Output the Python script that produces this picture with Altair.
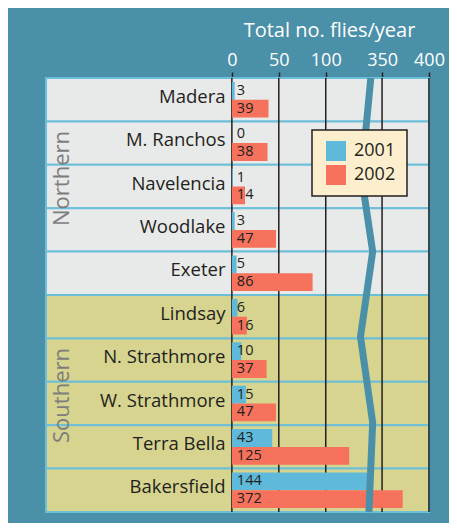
import altair as alt
import pandas as pd

# ---------------- data ----------------
sites = ["Madera", "M. Ranchos", "Navelencia", "Woodlake", "Exeter",
         "Lindsay", "N. Strathmore", "W. Strathmore", "Terra Bella", "Bakersfield"]
regions = ["Northern"] * 5 + ["Southern"] * 5
flies_2001 = [3, 0, 1, 3, 5, 6, 10, 15, 43, 144]
flies_2002 = [39, 38, 14, 47, 86, 16, 37, 47, 125, 372]
years = ["2001", "2002"]
axis_ticks = [0, 50, 100, 350, 400]

# broken axis: values >= break_resume are drawn shifted so break_resume sits at break_at
break_at = 160
break_resume = 350
break_shift = break_resume - break_at

# zig-zag break marker (position on plotting scale, row position from the top)
zigzag_x = [148, 138, 150, 137, 150, 146]
zigzag_row = [0, 2.26, 4, 5.96, 7.94, 10]

label_area = 198   # plotting units left of zero reserved for the site names
x_max = 210

# ---------------- styles ----------------
TEAL = "#4a90a8"
GRAY = "#e8e9e9"
KHAKI = "#d6d48e"
SEP = "#6cbfd9"
BLUE = "#5eb9db"
RED = "#f6725c"
INK = "#231f20"
CREAM = "#fdefce"
FONT = "Open Sans"
W, H = 383, 434

shift_expr = f"datum.value >= {break_resume} ? datum.value - {break_shift} : datum.value"

site_df = pd.DataFrame({"site": sites, "region": regions})
bars_df = pd.DataFrame({
    "site": sites * 2,
    "year": [years[0]] * len(sites) + [years[1]] * len(sites),
    "value": flies_2001 + flies_2002,
})
ticks_df = pd.DataFrame({"value": axis_ticks})
mid_df = pd.DataFrame({
    "region": ["Northern", "Southern"],
    "site": [sites[regions.index("Northern") + regions.count("Northern") // 2],
             sites[regions.index("Southern") + regions.count("Southern") // 2]],
})
zig_df = pd.DataFrame({"pos": zigzag_x, "zy": zigzag_row, "i": range(len(zigzag_x))})

tick_pos = [t - break_shift if t >= break_resume else t for t in axis_ticks]

x_scale = alt.Scale(domain=[-label_area, x_max], nice=False)
y_scale = alt.Scale(domain=sites, paddingInner=0, paddingOuter=0)
yoff_scale = alt.Scale(domain=years, paddingInner=0, paddingOuter=0.22)

x_axis = alt.Axis(orient="top", values=tick_pos,
                  labelExpr=f"datum.value >= {break_at} ? datum.value + {break_shift} : datum.value",
                  domain=False, grid=False, tickColor=INK, tickWidth=1.5,
                  tickSize=6, labelColor="white", labelFontSize=18,
                  labelPadding=3, labelFlush=False, labelFont=FONT,
                  title="Total no. flies/year", titleColor="white",
                  titleFontSize=20, titleFontWeight="normal", titleFont=FONT,
                  titleX=283, titleY=-42, titleAlign="center",
                  titleBaseline="alphabetic")

background = alt.Chart(site_df).mark_rect(stroke=SEP, strokeWidth=2).encode(
    y=alt.Y("site:N", scale=y_scale, sort=sites,
            axis=alt.Axis(orient="left", offset=-186, domain=False, ticks=False,
                          tickSize=0, labelPadding=7, labelFontSize=18.5,
                          labelColor=INK, labelOffset=-3, title=None,
                          labelFont=FONT)),
    x=alt.value(0),
    x2=alt.value(W),
    fill=alt.condition("datum.region == 'Northern'", alt.value(GRAY), alt.value(KHAKI)),
)

grid = alt.Chart(ticks_df).transform_calculate(pos=shift_expr).mark_rule(
    color=INK, strokeWidth=1.5
).encode(
    x=alt.X("pos:Q", scale=x_scale, axis=x_axis),
)

bars = alt.Chart(bars_df).transform_calculate(pos=shift_expr).mark_bar().encode(
    y=alt.Y("site:N", scale=y_scale, sort=sites, axis=None),
    yOffset=alt.YOffset("year:N", scale=yoff_scale),
    x=alt.X("pos:Q", scale=x_scale, axis=x_axis),
    color=alt.Color("year:N", scale=alt.Scale(domain=years, range=[BLUE, RED]),
                    legend=alt.Legend(title=None, orient="none", legendX=266, legendY=52,
                                      symbolType="square", symbolSize=400,
                                      symbolStrokeWidth=0, symbolOffset=3,
                                      labelFontSize=18, labelColor=INK, labelFont=FONT,
                                      labelOffset=8, rowPadding=4, padding=11,
                                      fillColor=CREAM, strokeColor=INK)),
)

values = alt.Chart(bars_df).mark_text(
    align="left", baseline="middle", dx=5, fontSize=14.5, color=INK, font=FONT
).encode(
    y=alt.Y("site:N", scale=y_scale, sort=sites, axis=None),
    yOffset=alt.YOffset("year:N", scale=yoff_scale),
    x=alt.X(datum=0, scale=x_scale, axis=x_axis),
    text="value:Q",
)

region_text = alt.Chart(mid_df).mark_text(
    angle=270, align="center", baseline="middle", dx=8, fontSize=22,
    color="#7d7d7d", font=FONT
).encode(
    y=alt.Y("site:N", scale=y_scale, sort=sites, axis=None),
    x=alt.value(16),
    text="region:N",
)

zigzag = alt.Chart(zig_df).mark_line(color=TEAL, strokeWidth=7, strokeCap="butt",
                                      strokeJoin="miter").encode(
    x=alt.X("pos:Q", scale=x_scale, axis=x_axis),
    y=alt.Y("zy:Q", scale=alt.Scale(domain=[0, 10], reverse=True, nice=False), axis=None),
    order="i:Q",
)

chart = alt.layer(background, grid, bars, values, region_text, zigzag).resolve_scale(
    y="independent"
).properties(
    width=W, height=H,
    autosize=alt.AutoSizeParams(type="none"),
    padding={"left": 38, "top": 70, "right": 20, "bottom": 11},
    background=TEAL,
).configure_view(stroke=None).configure(font=FONT).configure_legend(strokeWidth=1.5)

chart.save("out.html", embed_options={"renderer": "svg", "actions": False})
